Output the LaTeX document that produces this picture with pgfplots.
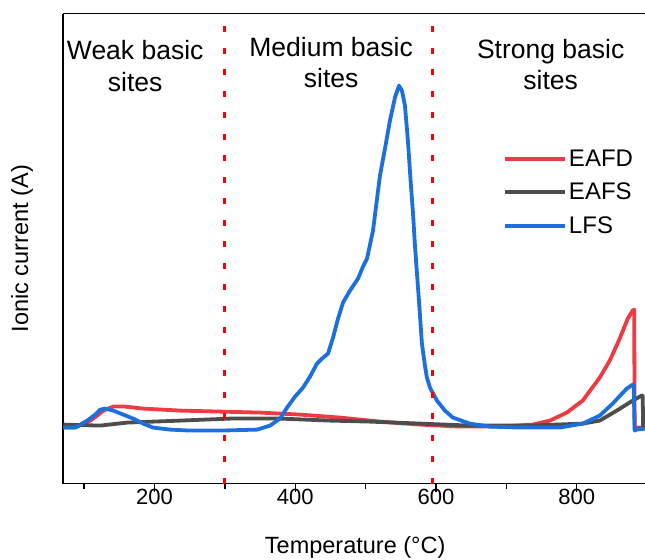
\documentclass[border=0pt]{standalone}
\usepackage{pgfplots}
\pgfplotsset{compat=1.18}
\usepackage{fontspec}
\setmainfont{Liberation Sans}
\definecolor{cred}{HTML}{EE3B43}
\definecolor{cgray}{HTML}{4D4D4D}
\definecolor{cblue}{HTML}{1C6FDD}
\begin{document}
\begin{tikzpicture}
\begin{axis}[
  name=ax,
  scale only axis,
  width=582pt, height=470pt,
  xmin=70, xmax=897, ymin=0, ymax=470,
  axis x line*=bottom, axis y line*=left,
  axis line style={line width=1.3pt, black},
  xtick={200,400,600,800},
  minor xtick={100,300,500,700},
  ytick=\empty,
  tick align=outside,
  major tick length=8pt, minor tick length=5pt,
  every tick/.style={line width=1.3pt, black},
  /pgf/number format/assume math mode=true,
  xticklabel style={font=\fontsize{22}{26}\selectfont, anchor=base, yshift=-13pt},
  xlabel={Temperature (°C)},
  xlabel style={font=\fontsize{23.5}{28}\selectfont, at={(axis description cs:0.502,0)}, anchor=base, yshift=-69.5pt},
  ylabel={Ionic current (A)},
  ylabel style={font=\fontsize{23.5}{28}\selectfont, at={(axis description cs:-0.0704,0.5)}, anchor=center, rotate=0},
  legend style={at={(axis description cs:0.756,0.714)}, anchor=north west, draw=none, fill=none,
    font=\fontsize{24}{28}\selectfont, inner sep=0pt, row sep=11pt},
  legend cell align=left,
  legend image code/.code={\draw[#1] (0pt,0pt) -- (60pt,0pt);},
  clip=false,
]
\addplot[cred, line width=3.8pt, line join=round] coordinates {
(70.4,56) (87.4,56) (108.8,63) (118.7,68) (127.2,73) (141.4,77) (158.4,77)
(184.0,75) (236.5,73) (293.3,72) (350.1,71) (406.8,69) (463.6,66) (520.4,62)
(577.2,59) (634.0,57) (690.8,57) (737.6,59) (761.8,63) (785.9,71) (808.5,83)
(832.7,106) (846.9,123) (861.1,145) (872.5,165) (879.5,173) (881.6,174)
(882.3,56) (896.5,56)
};
\addlegendentry{EAFD}
\addplot[cgray, line width=3.8pt, line join=round] coordinates {
(70.4,59) (122.9,58) (161.2,61) (236.5,63) (307.5,65) (378.4,65) (449.4,63)
(506.2,62) (577.2,60) (648.1,58) (733.3,58) (808.5,60) (832.7,63) (856.9,73)
(879.5,83) (892.3,88) (893.7,88) (894.4,56) (896.5,56)
};
\addlegendentry{EAFS}
\addplot[cblue, line width=3.8pt, line join=round] coordinates {
(70.4,56) (87.4,56) (104.5,63) (115.8,69) (122.9,74) (130.0,75) (141.4,73)
(155.6,69) (169.8,65) (184.0,60) (198.2,56) (222.3,54) (250.7,53) (293.3,53)
(345.8,54) (364.2,58) (378.4,65) (388.4,76) (399.7,87) (411.1,96) (421.0,107)
(430.9,120) (438.0,125) (446.6,130) (453.7,146) (460.8,165) (467.9,181)
(477.8,193) (489.2,205) (496.3,217) (502.0,225) (510.5,253) (520.4,308)
(527.5,335) (534.6,363) (541.7,386) (547.4,398) (551.6,393) (555.9,378)
(560.1,343) (564.4,298) (567.3,271) (570.1,238) (572.9,211) (575.8,183)
(580.0,140) (584.3,118) (587.1,106) (591.4,96) (601.3,83) (612.7,73)
(624.0,66) (648.1,60) (676.5,57) (719.1,56) (775.9,56) (808.5,60)
(832.7,68) (851.1,80) (871.0,95) (879.5,99) (880.9,99) (882.3,53)
(885.2,54) (896.5,55)
};
\addlegendentry{LFS}
\addplot[red, line width=3pt, dash pattern=on 6pt off 15.5pt, forget plot] coordinates {(300,0) (300,470)};
\addplot[red, line width=3pt, dash pattern=on 6pt off 15.5pt, forget plot] coordinates {(595,0) (595,470)};
\draw[line width=1.3pt, black] (rel axis cs:0,1) -- (rel axis cs:1,1);
\begin{scope}[every node/.style={font=\fontsize{26.5}{30}\selectfont, anchor=base}]
\node at (axis cs:172.6,424.5) {Weak basic};
\node at (axis cs:172.6,392.5) {sites};
\node at (axis cs:451,427.5) {Medium basic};
\node at (axis cs:451,396.5) {sites};
\node at (axis cs:763,425.5) {Strong basic};
\node at (axis cs:763,394.5) {sites};
\end{scope}
\end{axis}
\pgfresetboundingbox
\path[use as bounding box] ([xshift=-63pt,yshift=-75.5pt]ax.south west) rectangle ([yshift=13.6pt]ax.north east);
\end{tikzpicture}
\end{document}
